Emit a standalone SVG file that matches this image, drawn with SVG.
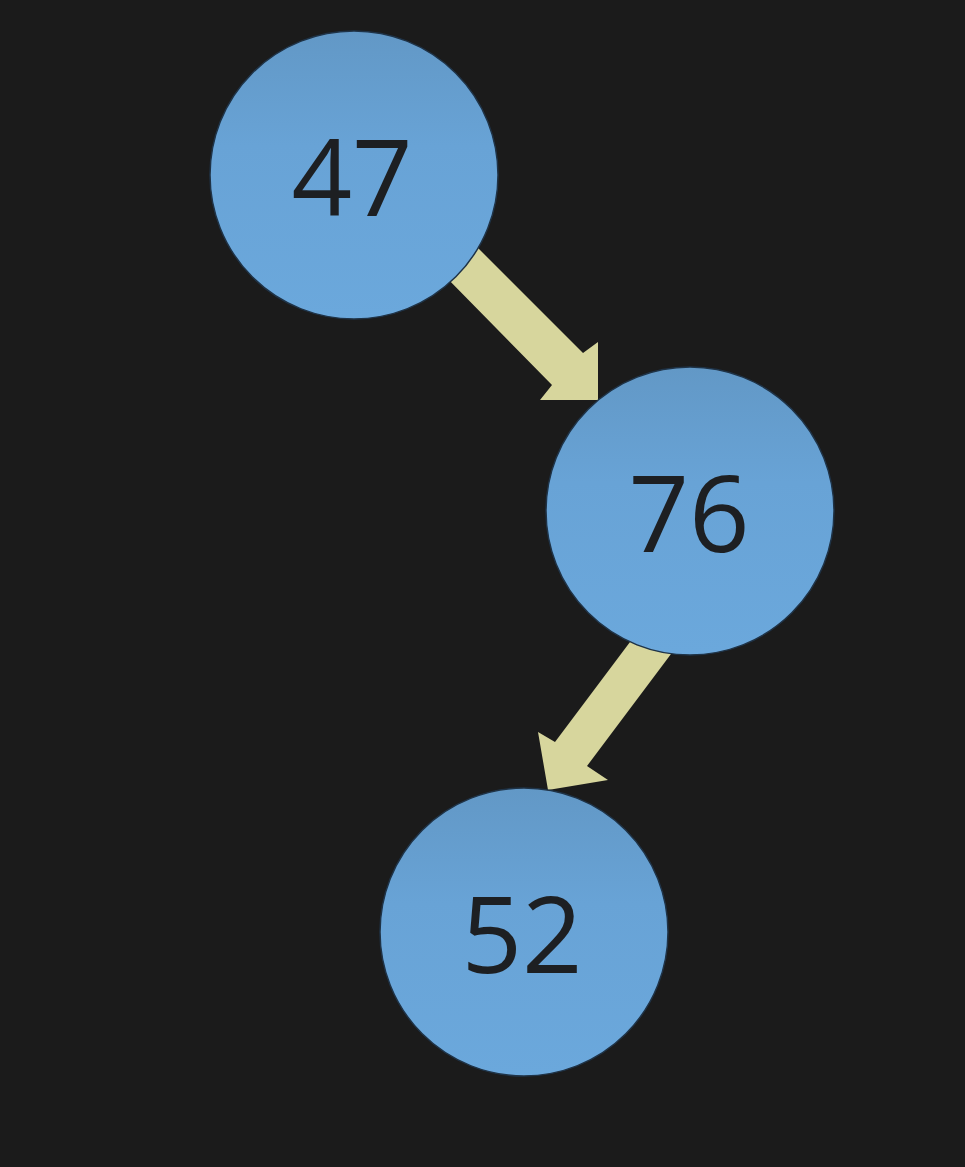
<svg xmlns="http://www.w3.org/2000/svg" width="965" height="1167" viewBox="0 0 965 1167">
<defs>
<linearGradient id="g" x1="0" y1="0" x2="0" y2="1">
<stop offset="0" stop-color="#6298c6"/>
<stop offset="0.4" stop-color="#68a3d6"/>
<stop offset="1" stop-color="#6ba8dc"/>
</linearGradient>
<style>
.node circle{fill:url(#g);stroke:#1f3347;stroke-width:1.5}
.node text{font-family:"Open Sans","Noto Sans",sans-serif;font-size:106px;fill:#1d1f22;text-anchor:middle}
.arrow{fill:#d7d69d}
</style>
</defs>
<rect width="965" height="1167" fill="#1b1b1b"/>
<g id="connectors">
<polygon class="arrow" points="470,240 583,353 598,342 598,400 540,400 552,385 442,273"/>
<polygon class="arrow" points="639,630 671,654 587,766 608,780 548,790 538,732 555,742"/>
</g>
<g id="n47" class="node"><circle cx="354" cy="175" r="144"/><text x="352" y="216">47</text></g>
<g id="n76" class="node"><circle cx="690" cy="511" r="144"/><text x="689" y="552">76</text></g>
<g id="n52" class="node"><circle cx="524" cy="932" r="144"/><text x="522" y="973">52</text></g>
</svg>
